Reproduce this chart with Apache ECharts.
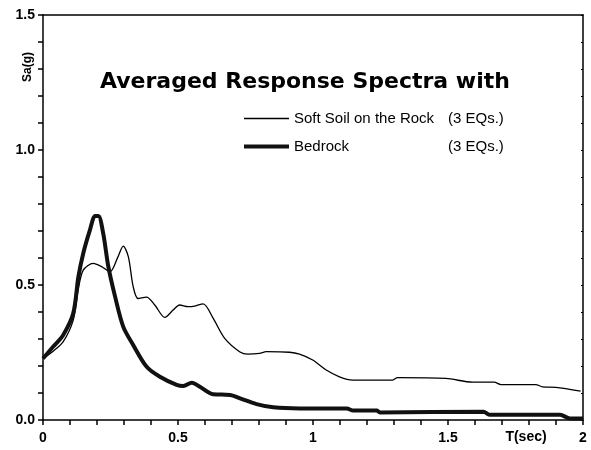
<!DOCTYPE html>
<html>
<head>
<meta charset="utf-8">
<script src="https://cdn.jsdelivr.net/npm/echarts@6/dist/echarts.min.js"></script>
<style>html,body{margin:0;padding:0;background:#fff}#c{width:591px;height:450px}</style>
</head>
<body>
<div id="c"></div>
<script>
// Period T (sec) and Sa (g)
var softT  = [0, 0.038, 0.075, 0.112, 0.13, 0.149, 0.186, 0.217, 0.248, 0.278, 0.297, 0.316, 0.334, 0.352, 0.383, 0.414, 0.451, 0.482, 0.506, 0.537, 0.562, 0.593, 0.63, 0.673, 0.728, 0.759, 0.802, 0.827, 0.913, 0.95, 0.999, 1.049, 1.098, 1.147, 1.295, 1.313, 1.492, 1.591, 1.671, 1.696, 1.825, 1.85, 1.899, 1.991];
var softSa = [0.228, 0.255, 0.29, 0.37, 0.48, 0.555, 0.58, 0.568, 0.549, 0.605, 0.644, 0.605, 0.494, 0.45, 0.455, 0.426, 0.38, 0.407, 0.426, 0.42, 0.422, 0.43, 0.377, 0.302, 0.253, 0.244, 0.247, 0.253, 0.251, 0.244, 0.222, 0.185, 0.16, 0.148, 0.148, 0.157, 0.154, 0.14, 0.14, 0.131, 0.131, 0.123, 0.121, 0.107];
var rockT  = [0, 0.038, 0.075, 0.112, 0.131, 0.149, 0.174, 0.193, 0.205, 0.223, 0.242, 0.267, 0.297, 0.334, 0.384, 0.433, 0.495, 0.52, 0.551, 0.581, 0.63, 0.693, 0.73, 0.791, 0.853, 0.952, 1.125, 1.149, 1.236, 1.248, 1.631, 1.656, 1.915, 1.952, 2.0];
var rockSa = [0.228, 0.272, 0.315, 0.395, 0.53, 0.617, 0.704, 0.756, 0.756, 0.691, 0.568, 0.457, 0.346, 0.278, 0.197, 0.16, 0.13, 0.126, 0.138, 0.123, 0.095, 0.093, 0.08, 0.059, 0.047, 0.043, 0.043, 0.035, 0.035, 0.028, 0.031, 0.019, 0.019, 0.006, 0.006];
var seriesNames = ['Soft Soil on the Rock', 'Bedrock'];
var legendSuffix = '(3 EQs.)';
var titleText = 'Averaged Response Spectra with';

function zip(a, b) { return a.map(function (v, i) { return [v, b[i]]; }); }
var FONT = 'Liberation Sans, Arial, sans-serif';
var TFONT = 'DejaVu Sans, sans-serif';
var chart = echarts.init(document.getElementById('c'));
chart.setOption({
  animation: false,
  backgroundColor: '#fff',
  title: { text: titleText, left: 95, top: 66, textStyle: { fontSize: 22, fontWeight: 'bold', fontFamily: TFONT, color: '#000' } },
  legend: {
    orient: 'vertical', left: 242, top: 111, padding: 0, itemWidth: 45, itemHeight: 14, itemGap: 13,
    itemStyle: { opacity: 0 },
    data: [
      { name: seriesNames[0], lineStyle: { width: 1.5, color: '#000' } },
      { name: seriesNames[1], lineStyle: { width: 4, color: '#111' } }
    ],
    formatter: function (n) { return '{a|' + n + '}{b|' + legendSuffix + '}'; },
    textStyle: {
      fontFamily: FONT, fontSize: 15, color: '#000',
      rich: { a: { width: 154, fontSize: 15, fontFamily: FONT, color: '#000' }, b: { fontSize: 15, fontFamily: FONT, color: '#000' } }
    }
  },
  grid: { left: 43, right: 8, top: 15, bottom: 30 },
  xAxis: [{
    type: 'value', min: 0, max: 2, interval: 0.1,
    axisLine: { show: true, lineStyle: { color: '#000', width: 1.5 } },
    axisTick: { show: true, length: 5, lineStyle: { color: '#000', width: 1.5 } },
    splitLine: { show: false },
    axisLabel: {
      show: true, margin: 11, color: '#000', fontWeight: 'bold', fontSize: 14, fontFamily: FONT,
      showMaxLabel: true, showMinLabel: true, hideOverlap: false,
      formatter: function (v) { return Math.abs(v * 2 - Math.round(v * 2)) < 1e-6 ? String(Math.round(v * 2) / 2) : ''; }
    }
  }, {
    type: 'value', min: 0, max: 2, position: 'top',
    axisLine: { show: true, onZero: false, lineStyle: { color: '#000', width: 1.5 } },
    axisTick: { show: false }, axisLabel: { show: false }, splitLine: { show: false }
  }],
  yAxis: [{
    type: 'value', min: 0, max: 1.5, interval: 0.1,
    axisLine: { show: true, lineStyle: { color: '#000', width: 1.5 } },
    axisTick: { show: true, length: 5, lineStyle: { color: '#000', width: 1.5 } },
    splitLine: { show: false },
    axisLabel: {
      show: true, margin: 8, color: '#000', fontWeight: 'bold', fontSize: 14, fontFamily: FONT,
      showMaxLabel: true, showMinLabel: true,
      formatter: function (v) { return Math.abs(v * 2 - Math.round(v * 2)) < 1e-6 ? v.toFixed(1) : ''; }
    }
  }, {
    type: 'value', min: 0, max: 1.5, interval: 0.1, position: 'right',
    axisLine: { show: true, onZero: false, lineStyle: { color: '#000', width: 1.5 } },
    axisTick: { show: true, inside: true, length: 2, lineStyle: { color: '#000', width: 1 } },
    axisLabel: { show: false }, splitLine: { show: false }
  }],
  graphic: [
    { type: 'text', x: 28, y: 67, rotation: Math.PI / 2, style: { text: 'Sa(g)', font: 'bold 12px ' + FONT, fill: '#000', textAlign: 'center', textVerticalAlign: 'middle' } },
    { type: 'text', x: 526, y: 437, style: { text: 'T(sec)', font: 'bold 14px ' + FONT, fill: '#000', textAlign: 'center', textVerticalAlign: 'middle' } }
  ],
  series: [{
    name: seriesNames[0], type: 'line', data: zip(softT, softSa), symbol: 'none', smooth: 0.3,
    lineStyle: { color: '#000', width: 1.3 }, itemStyle: { color: '#000' }
  }, {
    name: seriesNames[1], type: 'line', data: zip(rockT, rockSa), symbol: 'none', smooth: 0.3,
    lineStyle: { color: '#111', width: 4 }, itemStyle: { color: '#111' }
  }]
});
</script>
</body>
</html>
